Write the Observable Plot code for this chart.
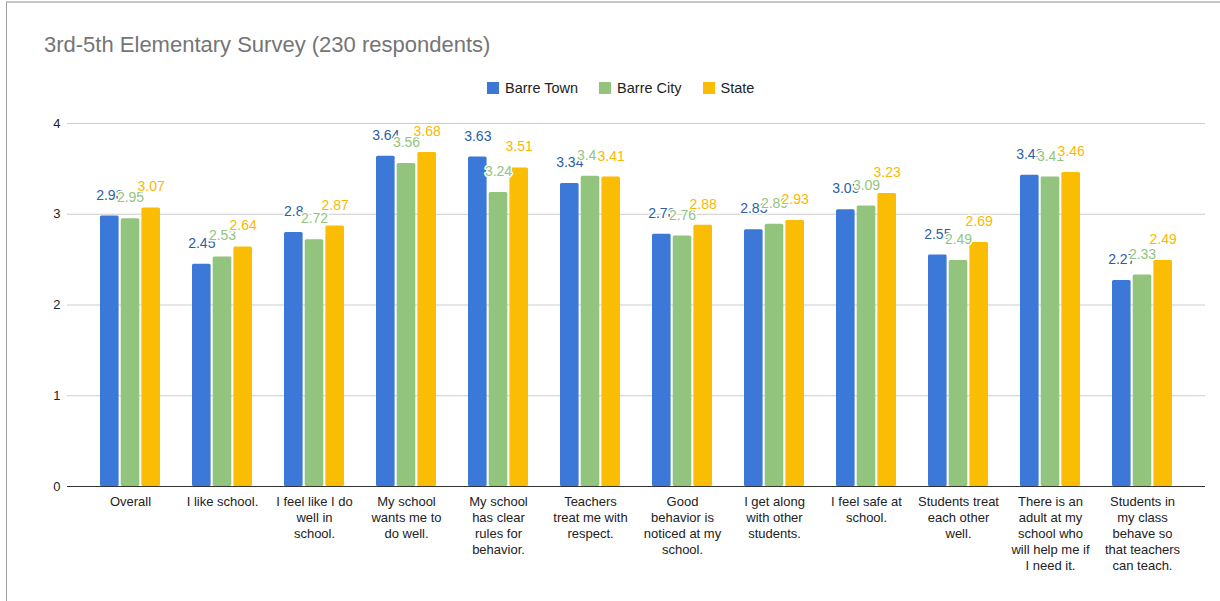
<!DOCTYPE html>
<html>
<head>
<meta charset="utf-8">
<script src="https://cdn.jsdelivr.net/npm/d3@7"></script>
<script src="https://cdn.jsdelivr.net/npm/@observablehq/plot@0.6"></script>
<style>
  html, body { margin: 0; padding: 0; background: #fff; width: 1220px; height: 601px; overflow: hidden; }
  body { position: relative; font-family: "Liberation Sans", Arial, sans-serif; }
  #frame { position: absolute; left: 6px; top: 1px; width: 1300px; height: 700px; border-top: 2px solid #c6c6c6; border-left: 1px solid #9e9e9e; pointer-events: none; }
  #title { position: relative; height: 70px; }
  #title span { position: absolute; left: 44px; top: 34px; font-size: 22px; line-height: 22px; color: #757575; white-space: nowrap; }
  #legend { position: relative; height: 35px; }
  #legend .items { position: absolute; left: 487px; top: 11px; display: flex; align-items: center; font-size: 14.5px; color: #222; line-height: 14px; }
  #legend .item { display: flex; align-items: center; margin-right: 21px; }
  #legend .sw { width: 12px; height: 12px; margin-right: 6px; }
  #chart svg { display: block; }
</style>
</head>
<body>
<div id="frame"></div>
<div id="title"><span>3rd-5th Elementary Survey (230 respondents)</span></div>
<div id="legend"><div class="items"></div></div>
<div id="chart"></div>
<script>
const categories = [
  "Overall",
  "I like school.",
  "I feel like I do well in school.",
  "My school wants me to do well.",
  "My school has clear rules for behavior.",
  "Teachers treat me with respect.",
  "Good behavior is noticed at my school.",
  "I get along with other students.",
  "I feel safe at school.",
  "Students treat each other well.",
  "There is an adult at my school who will help me if I need it.",
  "Students in my class behave so that teachers can teach."
];
const tickLabels = [
  "Overall",
  "I like school.",
  "I feel like I do\nwell in\nschool.",
  "My school\nwants me to\ndo well.",
  "My school\nhas clear\nrules for\nbehavior.",
  "Teachers\ntreat me with\nrespect.",
  "Good\nbehavior is\nnoticed at my\nschool.",
  "I get along\nwith other\nstudents.",
  "I feel safe at\nschool.",
  "Students treat\neach other\nwell.",
  "There is an\nadult at my\nschool who\nwill help me if\nI need it.",
  "Students in\nmy class\nbehave so\nthat teachers\ncan teach."
];
const seriesNames = ["Barre Town", "Barre City", "State"];
const barreTown = [2.98, 2.45, 2.8, 3.64, 3.63, 3.34, 2.78, 2.83, 3.05, 2.55, 3.43, 2.27];
const barreCity = [2.95, 2.53, 2.72, 3.56, 3.24, 3.42, 2.76, 2.89, 3.09, 2.49, 3.41, 2.33];
const stateVals = [3.07, 2.64, 2.87, 3.68, 3.51, 3.41, 2.88, 2.93, 3.23, 2.69, 3.46, 2.49];
const yTicks = [0, 1, 2, 3, 4];

const barColors = ["#3c78d8", "#93c47d", "#fbbc04"];
const labelColors = ["#2a5ea8", "#93c47d", "#f9b800"];

// legend
const legendItems = document.querySelector("#legend .items");
seriesNames.forEach((name, i) => {
  const it = document.createElement("div");
  it.className = "item";
  const sw = document.createElement("div");
  sw.className = "sw";
  sw.style.background = barColors[i];
  const t = document.createElement("span");
  t.textContent = name;
  it.appendChild(sw); it.appendChild(t);
  legendItems.appendChild(it);
});

const rows = categories.map((c, i) => ({
  category: c,
  label: tickLabels[i],
  v0: barreTown[i],
  v1: barreCity[i],
  v2: stateVals[i]
}));

const barW = 18.6, gap = 2.1, bandW = 3 * barW + 2 * gap;
const offsets = [0, 1, 2].map(k => k * (barW + gap) + barW / 2 - bandW / 2);

const marks = [
  Plot.ruleY(yTicks.filter(t => t > 0), {stroke: "#cccccc", strokeWidth: 1})
];
["v0", "v1", "v2"].forEach((key, k) => {
  marks.push(Plot.barY(rows, {
    x: "category", y: key, fill: barColors[k],
    insetLeft: k * (barW + gap),
    insetRight: bandW - (k * (barW + gap) + barW),
    rx: 1.5
  }));
});
marks.push(Plot.ruleY([0], {stroke: "#333333", strokeWidth: 1}));
["v0", "v1", "v2"].forEach((key, k) => {
  marks.push(Plot.text(rows, {
    x: "category", y: key, text: d => String(d[key]),
    dx: offsets[k], dy: -21,
    fill: labelColors[k], stroke: "white", strokeWidth: 3, paintOrder: "stroke",
    fontSize: 14
  }));
});
marks.push(Plot.text(rows, {
  x: "category", y: () => 0, text: "label",
  dy: 8, lineAnchor: "top", lineHeight: 1.24,
  fontSize: 13, fill: "#222"
}));
marks.push(Plot.axisY({ticks: yTicks, tickSize: 0, tickPadding: 7, label: null, fontSize: 13, fill: "#222", tickFormat: d => String(d)}));

const chart = Plot.plot({
  width: 1220,
  height: 496,
  marginTop: 18,
  marginBottom: 115,
  marginLeft: 67,
  marginRight: 15,
  style: {fontFamily: "'Liberation Sans', Arial, sans-serif", fontSize: "13px", color: "#222", background: "transparent", overflow: "visible"},
  x: {type: "band", domain: categories, inset: 16, paddingInner: 0.349, paddingOuter: 0.1745, axis: null},
  y: {domain: [0, 4], axis: null},
  marks
});
document.getElementById("chart").appendChild(chart);
</script>
</body>
</html>
